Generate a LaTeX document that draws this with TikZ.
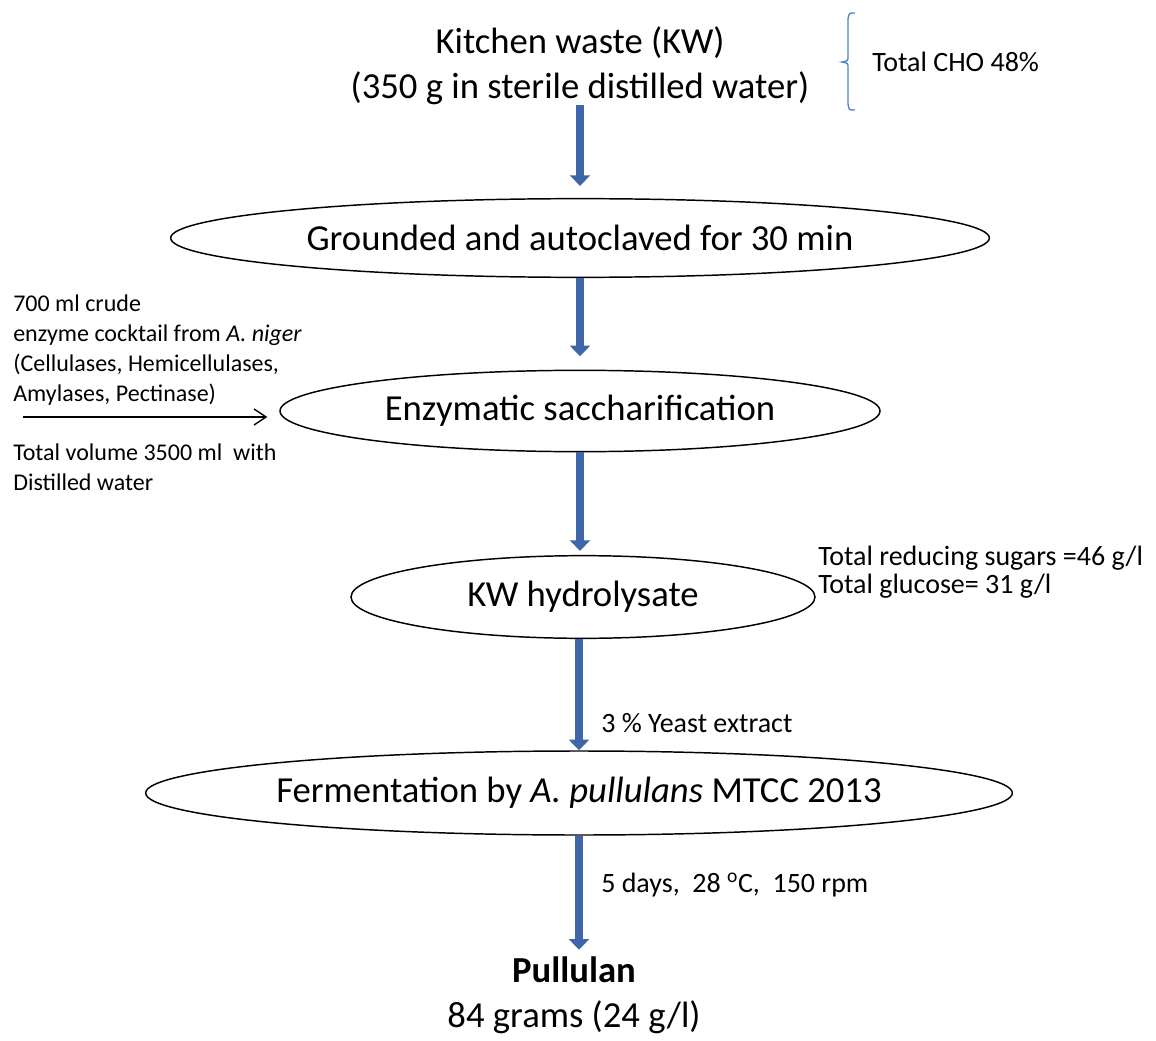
\documentclass[tikz,border=0pt]{standalone}
\usepackage{fontspec}
\setmainfont{Carlito}
\usetikzlibrary{arrows.meta,shapes.geometric}
\definecolor{flowblue}{RGB}{62,102,168}
\definecolor{bracketblue}{RGB}{79,129,189}
\begin{document}
\begin{tikzpicture}[x=0.75pt,y=-0.75pt,
  proc/.style={draw=black, line width=1.1pt, ellipse, inner sep=0pt, font=\fontsize{27.5}{33.5}\selectfont},
  flow/.style={draw=flowblue, line width=5.5pt, -{Triangle[width=15pt,length=8pt]}},
  note/.style={inner sep=0pt, font=\fontsize{21}{22}\selectfont, align=left},
  leftnote/.style={inner sep=0pt, font=\fontsize{18}{22.5}\selectfont, align=left},
  big/.style={inner sep=0pt, align=center, font=\fontsize{27.5}{33.5}\selectfont}]
\useasboundingbox (0,0) rectangle (1156,1041);
\node[big] (kw) at (580,66) {Kitchen waste (KW)\\(350 g in sterile distilled water)};
\node[proc, minimum width=614pt, minimum height=59pt] (e1) at (580,238) {Grounded and autoclaved for 30 min};
\node[proc, minimum width=450pt, minimum height=61pt] (e2) at (580,411) {Enzymatic saccharification};
\node[proc, minimum width=348pt, minimum height=62pt] (e3) at (583,597) {KW hydrolysate};
\node[proc, minimum width=650pt, minimum height=63pt] (e4) at (579,793) {Fermentation by \textit{A. pullulans} MTCC 2013};
\node[big] (pul) at (574,995) {\textbf{Pullulan}\\84 grams (24 g/l)};
% flow arrows
\draw[flow, shorten >=9pt] (kw.south -| e1.north) -- (e1.north);
\draw[flow, shorten >=10pt] (e1.south) -- (e2.north);
\draw[flow, shorten >=3pt] (e2.south) -- (e2.south |- e3.north);
\draw[flow] (e4.north |- e3.south) -- (e4.north);
\draw[flow, shorten >=5pt] (e4.south) -- (e4.south |- pul.north);
% side notes
\node[note, anchor=west] (cho) at (872,62) {Total CHO 48\%};
\draw[bracketblue, line width=1pt] (855,13) .. controls (849,13) .. (848,19) -- (848,56)
  .. controls (848,61) .. (842,62) .. controls (848,63) .. (848,68) -- (848,104)
  .. controls (849,110) .. (855,110);
\node[note, anchor=west, font=\fontsize{21}{21}\selectfont] (sug) at (818,572) {Total reducing sugars =46 g/l\\Total glucose= 31 g/l};
\node[note, anchor=west] (yeast) at (601,723) {3 \% Yeast extract};
\node[note, anchor=west] (cond) at (601,885) {5 days,~ 28 \textsuperscript{o}C,~ 150 rpm};
\node[leftnote, anchor=west] (enz) at (13,350) {700 ml crude\\enzyme cocktail from \textit{A. niger}\\(Cellulases, Hemicellulases,\\Amylases, Pectinase)};
\node[leftnote, anchor=west] (vol) at (13,467) {Total volume 3500 ml~ with\\Distilled water};
\coordinate (lin) at (23,417);
\draw[line width=1pt, -{Straight Barb[length=9pt,width=12pt]}, shorten >=9pt] (lin) -- (lin -| e2.west);
\end{tikzpicture}
\end{document}
